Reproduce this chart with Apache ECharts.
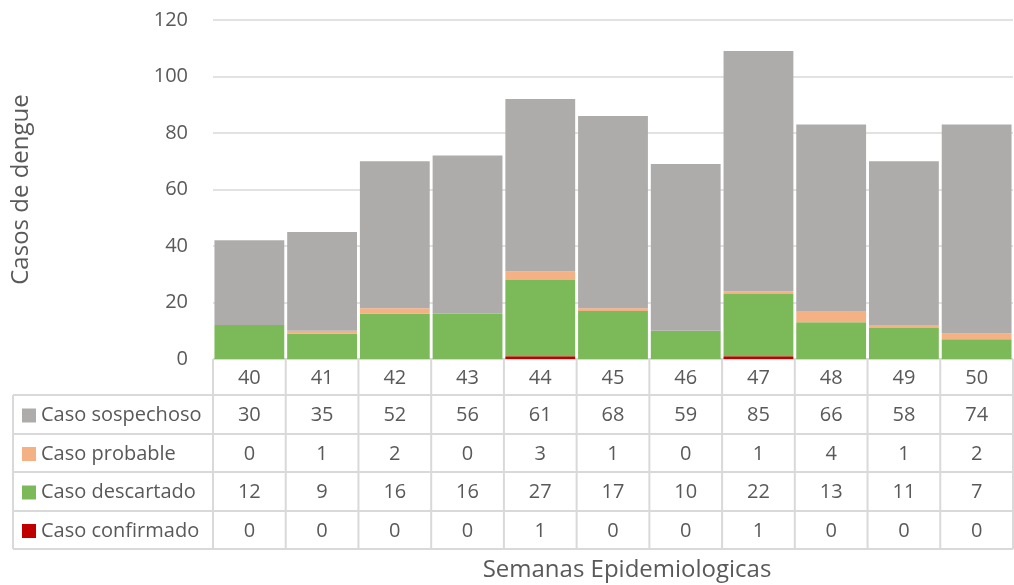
<!DOCTYPE html>
<html>
<head>
<meta charset="utf-8">
<script src="https://cdn.jsdelivr.net/npm/echarts@6/dist/echarts.min.js"></script>
<style>
  html, body { margin: 0; padding: 0; background: #fff; }
  #chart { width: 1014px; height: 585px; }
</style>
</head>
<body>
<div id="chart"></div>
<script>
// Semanas epidemiológicas y casos por clasificación
const semanas = ['40', '41', '42', '43', '44', '45', '46', '47', '48', '49', '50'];
const confirmado = [0, 0, 0, 0, 1, 0, 0, 1, 0, 0, 0];
const descartado = [12, 9, 16, 16, 27, 17, 10, 22, 13, 11, 7];
const probable = [0, 1, 2, 0, 3, 1, 0, 1, 4, 1, 2];
const sospechoso = [30, 35, 52, 56, 61, 68, 59, 85, 66, 58, 74];
const yTicks = [0, 20, 40, 60, 80, 100, 120];

const FONT = '"Open Sans"';
const TXT = '#595959';
const LINE = '#d9d9d9';
const FS = 20;
const FS_TITLE = 24;

// Filas de la tabla de datos (de arriba abajo)
const rows = [
  { name: 'Caso sospechoso', color: '#aeabab', data: sospechoso },
  { name: 'Caso probable', color: '#f4b183', data: probable },
  { name: 'Caso descartado', color: '#7cb958', data: descartado },
  { name: 'Caso confirmado', color: '#c00000', data: confirmado }
];

const plot = { left: 213, right: 1013, top: 20, bottom: 359 };
const tableLeft = 13;
const rowLines = [359, 395, 434, 472, 511, 549];

const chart = echarts.init(document.getElementById('chart'));

function barSeries(name, color, data) {
  return {
    name, type: 'bar', stack: 'total', data,
    barCategoryGap: '4%',
    itemStyle: { color },
    emphasis: { disabled: true }
  };
}

chart.setOption({
  animation: false,
  textStyle: { fontFamily: FONT },
  grid: { left: plot.left, top: plot.top, right: 1014 - plot.right, bottom: 585 - plot.bottom },
  xAxis: {
    type: 'category', data: semanas,
    axisLine: { show: false }, axisTick: { show: false },
    axisLabel: { show: false }
  },
  yAxis: {
    type: 'value', min: yTicks[0], max: yTicks[yTicks.length - 1], interval: 20,
    axisLine: { show: false }, axisTick: { show: false },
    axisLabel: { color: TXT, fontSize: FS, fontFamily: FONT, margin: 25 },
    splitLine: { lineStyle: { color: LINE, width: 1.5 } },
    name: 'Casos de dengue', nameLocation: 'middle', nameGap: 180,
    nameTextStyle: { color: TXT, fontSize: FS_TITLE, fontFamily: FONT }
  },
  series: [
    barSeries('Caso confirmado', '#c00000', confirmado),
    barSeries('Caso descartado', '#7cb958', descartado),
    barSeries('Caso probable', '#f4b183', probable),
    barSeries('Caso sospechoso', '#aeabab', sospechoso)
  ]
});

// Tabla de datos bajo el gráfico, alineada con las categorías del eje
const colCenters = semanas.map((s, i) => chart.convertToPixel({ xAxisIndex: 0 }, i));
const step = colCenters.length > 1 ? colCenters[1] - colCenters[0] : 70;
const g = [];
const line = (x1, y1, x2, y2) => g.push({
  type: 'line', shape: { x1, y1, x2, y2 },
  style: { stroke: LINE, lineWidth: 2 }, silent: true
});
const text = (x, y, t, align, size) => g.push({
  type: 'text', x, y, silent: true,
  style: { text: t, fill: TXT, font: (size || FS) + 'px ' + FONT, align: align || 'center', verticalAlign: 'middle' }
});

// líneas horizontales
rowLines.forEach((y, k) => line(k < 1 ? plot.left : tableLeft, y, plot.right, y));
// líneas verticales
line(tableLeft, rowLines[1], tableLeft, rowLines[rowLines.length - 1]);
for (let i = 0; i <= semanas.length; i++) {
  const x = i < semanas.length ? colCenters[i] - step / 2 : colCenters[semanas.length - 1] + step / 2;
  line(x, rowLines[0], x, rowLines[rowLines.length - 1]);
}
// encabezado de semanas
semanas.forEach((s, i) => text(colCenters[i], (rowLines[0] + rowLines[1]) / 2 + 1, s));
// filas de series
rows.forEach((r, k) => {
  const yc = (rowLines[k + 1] + rowLines[k + 2]) / 2 + 1;
  g.push({ type: 'rect', shape: { x: 22, y: yc - 7, width: 14, height: 14 }, style: { fill: r.color }, silent: true });
  text(41, yc, r.name, 'left');
  r.data.forEach((v, i) => text(colCenters[i], yc, String(v)));
});
// título del eje X
text(627, 570, 'Semanas Epidemiologicas', 'center', FS_TITLE);

chart.setOption({ graphic: { elements: g } });
</script>
</body>
</html>
